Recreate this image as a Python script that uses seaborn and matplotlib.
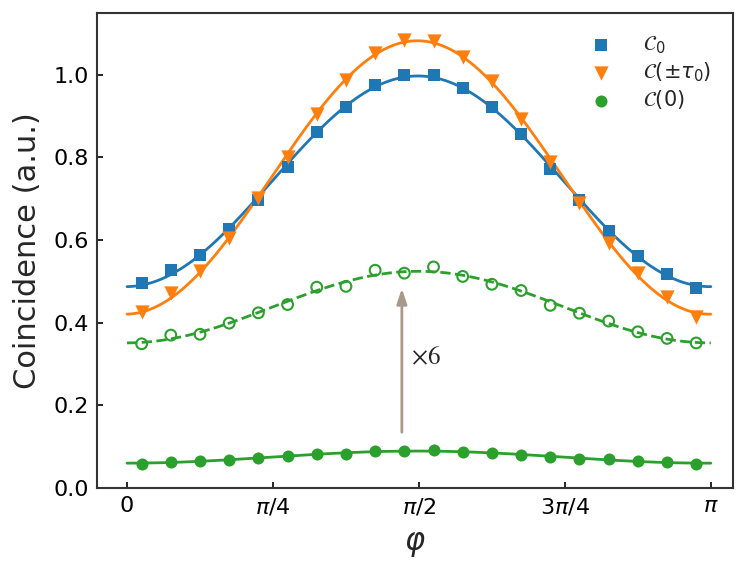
import numpy as np
import pandas as pd
import matplotlib
matplotlib.use("Agg")
import matplotlib.pyplot as plt
import seaborn as sns

# ---- data ----
phi = (np.arange(20) * 2 + 1) * np.pi / 40  # pi/40 ... 39pi/40
c0 = [0.495, 0.527, 0.565, 0.628, 0.698, 0.778, 0.861, 0.921, 0.975, 0.999,
      1.000, 0.969, 0.921, 0.856, 0.771, 0.696, 0.621, 0.561, 0.519, 0.485]
c_tau = [0.427, 0.471, 0.524, 0.606, 0.701, 0.800, 0.904, 0.988, 1.054, 1.085,
         1.083, 1.044, 0.984, 0.894, 0.788, 0.689, 0.594, 0.520, 0.462, 0.413]
c_zero = [0.059, 0.063, 0.065, 0.068, 0.072, 0.077, 0.083, 0.083, 0.089, 0.089,
          0.091, 0.087, 0.085, 0.081, 0.075, 0.071, 0.069, 0.066, 0.062, 0.059]
c_zero_x6 = [0.349, 0.370, 0.372, 0.399, 0.424, 0.444, 0.486, 0.488, 0.527, 0.520,
             0.535, 0.512, 0.493, 0.478, 0.442, 0.423, 0.404, 0.378, 0.362, 0.351]

xtick_vals = [0, np.pi / 4, np.pi / 2, 3 * np.pi / 4, np.pi]
xtick_labels = ["0", r"$\pi/4$", r"$\pi/2$", r"$3\pi/4$", r"$\pi$"]
ytick_vals = [0.0, 0.2, 0.4, 0.6, 0.8, 1.0]

blue, orange, green = "#1f77b4", "#ff7f0e", "#2ca02c"

# ---- least-squares sinusoidal fit curves computed from the data ----
def fit_curve(x, y, xf):
    x = np.asarray(x); y = np.asarray(y)
    A = np.column_stack([np.ones_like(x), np.cos(2 * x), np.sin(2 * x)])
    coef, *_ = np.linalg.lstsq(A, y, rcond=None)
    Af = np.column_stack([np.ones_like(xf), np.cos(2 * xf), np.sin(2 * xf)])
    return Af @ coef

phi_f = np.linspace(0, np.pi, 300)

sns.set_style("ticks")
plt.rcParams["font.family"] = ["DejaVu Sans"]

fig = plt.figure(figsize=(7.47, 5.69), dpi=100)
ax = fig.add_axes([0.130, 0.1424, 0.851, 0.835])

fits = [(c0, blue, "-"), (c_tau, orange, "-"), (c_zero, green, "-"), (c_zero_x6, green, "--")]
for yv, col, ls in fits:
    sns.lineplot(x=phi_f, y=fit_curve(phi, yv, phi_f), color=col, lw=2,
                 linestyle=ls, ax=ax, legend=False, zorder=2)

sns.scatterplot(x=phi, y=c0, marker="s", color=blue, s=80, linewidth=0,
                label=r"$\mathcal{C}_0$", ax=ax, zorder=3)
sns.scatterplot(x=phi, y=c_tau, marker="v", color=orange, s=105, linewidth=0,
                label=r"$\mathcal{C}(\pm\tau_0)$", ax=ax, zorder=3)
sns.scatterplot(x=phi, y=c_zero, marker="o", color=green, s=75, linewidth=0,
                label=r"$\mathcal{C}(0)$", ax=ax, zorder=3)
ax.scatter(phi, c_zero_x6, marker="o", facecolors="none", edgecolors=green,
           s=60, linewidths=1.5, zorder=3)

# arrow and x6 label
ax.annotate("", xy=(1.479, 0.483), xytext=(1.479, 0.135),
            arrowprops=dict(arrowstyle="-|>,head_length=0.9,head_width=0.3",
                        color="#a8998b", lw=2, shrinkA=0, shrinkB=0))
ax.text(1.53, 0.315, r"$\times 6$", fontsize=18, math_fontfamily="stix",
        va="center", ha="left")

ax.set_xlim(-0.161, 3.26)
ax.set_ylim(0.0, 1.15)
ax.set_xticks(xtick_vals)
ax.set_xticklabels(xtick_labels)
ax.set_yticks(ytick_vals)
ax.set_yticklabels([f"{v:.1f}" for v in ytick_vals])
ax.tick_params(direction="in", labelsize=16, length=4.5, width=1.2,
               colors="black", pad=6)
for sp in ax.spines.values():
    sp.set_visible(True)
    sp.set_color("#333333")
    sp.set_linewidth(1.5)

ax.set_xlabel(r"$\varphi$", fontsize=22, labelpad=9)
ax.set_ylabel("Coincidence (a.u.)", fontsize=22, labelpad=8)

leg = ax.legend(loc="upper right", frameon=False, fontsize=15,
                bbox_to_anchor=(0.995, 0.995), handletextpad=1.0,
                labelspacing=0.22)

fig.savefig("out.png", dpi=100)
